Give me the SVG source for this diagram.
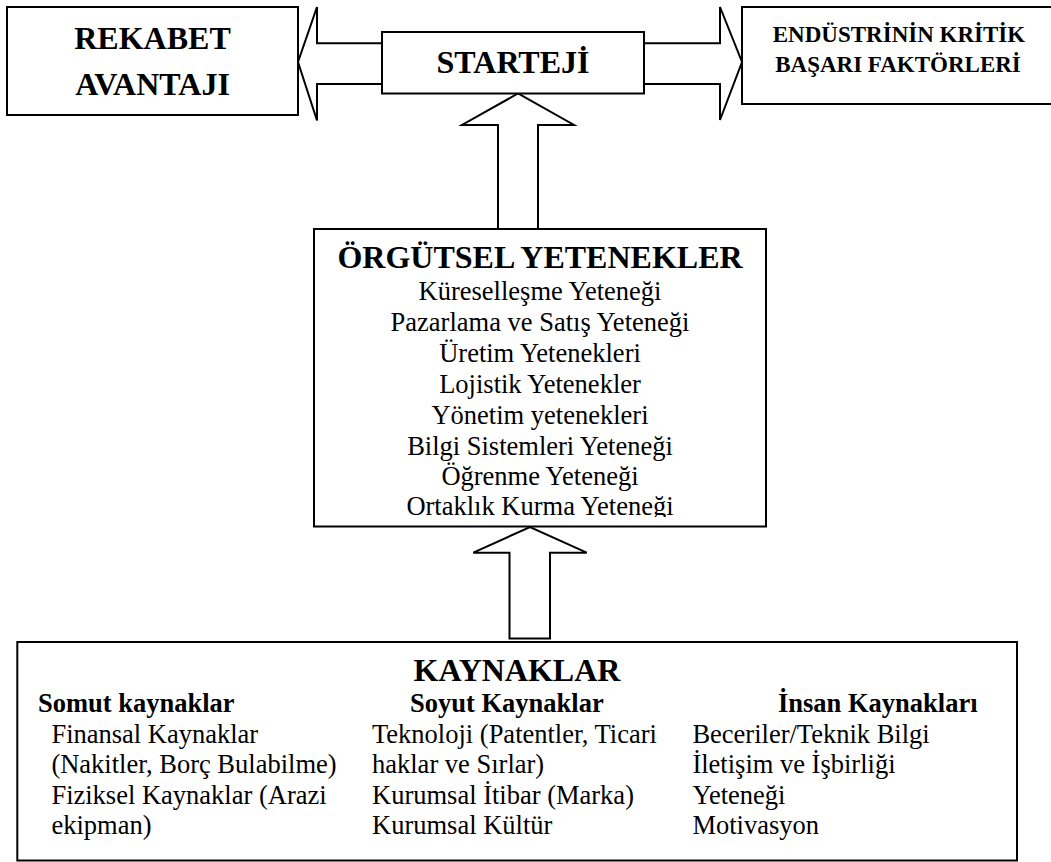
<svg xmlns="http://www.w3.org/2000/svg" width="1051" height="862" viewBox="0 0 1051 862">
<style>
.box{fill:#fff;stroke:#000;stroke-width:2}
.arr{fill:#fff;stroke:#000;stroke-width:2;stroke-linejoin:miter}
text{font-family:"Liberation Serif","Times New Roman",serif;fill:#000}
.b{font-weight:bold}
.t32{font-size:32px}
.t23{font-size:23px}
.t26{font-size:26.5px}
.c{text-anchor:middle}
</style>
<defs>
<clipPath id="orgClip"><rect x="315" y="230" width="450" height="287"/></clipPath>
</defs>
<g id="connectors">
<path class="arr" d="M382,43.3 L317,43.3 L317,7 L298,62 L317,120.5 L317,84 L382,84"/>
<path class="arr" d="M644,43.3 L720,43.3 L720,7 L742,62 L720,120 L720,84 L644,84"/>
<path class="arr" d="M498,229 L498,125 L462,125 L518,93.5 L574,125 L538,125 L538,229"/>
<path class="arr" d="M509.5,638.5 L509.5,552.7 L473.3,552.7 L530,527 L586.7,552.7 L550,552.7 L550,638.5 Z"/>
</g>
<g id="rekabet">
<rect class="box" x="7" y="7" width="291" height="108"/>
<text class="b t32 c" x="152.5" y="48.5">REKABET</text>
<text class="b t32 c" x="152.5" y="94.7">AVANTAJI</text>
</g>
<g id="strateji">
<rect class="box" x="382" y="32" width="262" height="61.5"/>
<text class="b t32 c" x="513" y="72.7">STARTEJİ</text>
</g>
<g id="endustri">
<rect class="box" x="742" y="7" width="312" height="97"/>
<text class="b t23 c" x="899" y="42">ENDÜSTRİNİN KRİTİK</text>
<text class="b t23 c" x="898" y="72">BAŞARI FAKTÖRLERİ</text>
</g>
<g id="orgutsel">
<rect class="box" x="314" y="229" width="452" height="297.5"/>
<text class="b t32 c" x="540" y="268">ÖRGÜTSEL YETENEKLER</text>
<g clip-path="url(#orgClip)">
<text class="t26 c" x="540" y="300">Küreselleşme Yeteneği</text>
<text class="t26 c" x="540" y="331">Pazarlama ve Satış Yeteneği</text>
<text class="t26 c" x="540" y="362">Üretim Yetenekleri</text>
<text class="t26 c" x="540" y="393">Lojistik Yetenekler</text>
<text class="t26 c" x="540" y="423.5">Yönetim yetenekleri</text>
<text class="t26 c" x="540" y="454.5">Bilgi Sistemleri Yeteneği</text>
<text class="t26 c" x="540" y="484.5">Öğrenme Yeteneği</text>
<text class="t26 c" x="540" y="515">Ortaklık Kurma Yeteneği</text>
</g>
</g>
<g id="kaynaklar">
<rect class="box" x="17.3" y="642" width="999.7" height="218.5"/>
<text class="b t32 c" x="517" y="681">KAYNAKLAR</text>
<text class="b t26" x="38" y="712">Somut kaynaklar</text>
<text class="b t26" x="410" y="712">Soyut Kaynaklar</text>
<text class="b t26" x="778" y="712">İnsan Kaynakları</text>
<text class="t26" x="51.4" y="742.5">Finansal Kaynaklar</text>
<text class="t26" x="51.4" y="773">(Nakitler, Borç Bulabilme)</text>
<text class="t26" x="51.4" y="803.5">Fiziksel Kaynaklar (Arazi</text>
<text class="t26" x="51.4" y="834">ekipman)</text>
<text class="t26" x="372" y="742.5">Teknoloji (Patentler, Ticari</text>
<text class="t26" x="372" y="773">haklar ve Sırlar)</text>
<text class="t26" x="372" y="803.5">Kurumsal İtibar (Marka)</text>
<text class="t26" x="372" y="834">Kurumsal Kültür</text>
<text class="t26" x="692.4" y="742.5">Beceriler/Teknik Bilgi</text>
<text class="t26" x="692.4" y="773">İletişim ve İşbirliği</text>
<text class="t26" x="692.4" y="803.5">Yeteneği</text>
<text class="t26" x="692.4" y="834">Motivasyon</text>
</g>
</svg>
